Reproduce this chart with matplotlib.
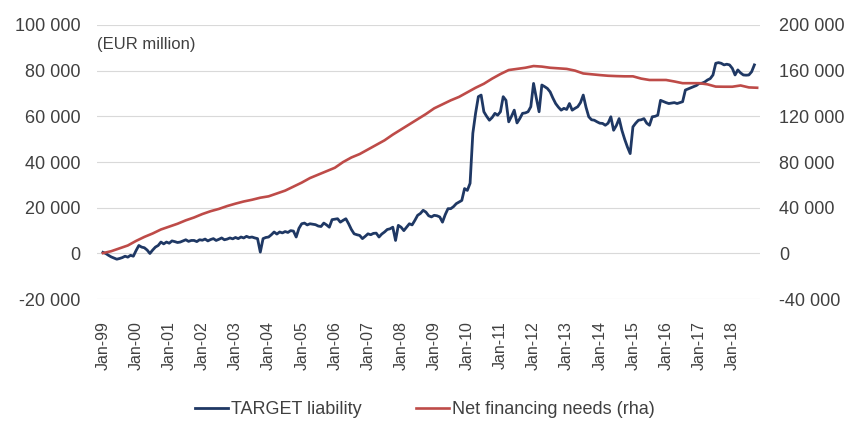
import matplotlib
matplotlib.use('Agg')
import matplotlib.pyplot as plt
from matplotlib.ticker import FuncFormatter

plt.rcParams['font.family'] = ['Liberation Sans Narrow', 'Liberation Sans', 'DejaVu Sans']

# TARGET liability, EUR thousand million, monthly Jan-99 .. Sep-18
target = [
    0.5, 0.0, -0.8, -1.5, -2.0, -2.5, -2.2, -1.8, -1.2, -1.6, -0.8, -1.2,
    1.3, 3.5, 2.8, 2.5, 1.5, 0.0, 1.5, 2.8, 3.5, 5.0, 4.2, 5.0,
    4.5, 5.5, 5.2, 4.8, 5.0, 5.5, 6.0, 5.3, 5.7, 5.7, 5.2, 6.0,
    5.8, 6.3, 5.5, 6.1, 6.5, 5.7, 6.2, 6.8, 6.0, 6.3, 6.8, 6.4,
    7.0, 6.5, 7.2, 6.8, 7.5, 7.0, 7.2, 6.8, 6.5, 0.6, 6.5, 7.0,
    7.2, 8.2, 9.4, 8.5, 9.4, 9.0, 9.6, 9.2, 10.0, 9.8, 7.2, 11.0,
    13.0, 13.3, 12.5, 13.0, 12.8, 12.6, 12.0, 11.8, 13.3, 12.5, 11.5, 14.8,
    15.0, 15.2, 13.7, 14.5, 15.2, 13.0, 10.5, 8.6, 8.2, 7.9, 6.5, 7.5,
    8.6, 8.2, 8.8, 8.9, 7.2, 8.5, 9.4, 10.5, 10.8, 11.5, 5.7, 12.3,
    11.5, 10.0, 11.5, 13.0, 12.5, 14.5, 16.7, 17.5, 18.9, 18.1, 16.5, 16.0,
    16.7, 16.5, 16.0, 13.7, 17.0, 19.6, 19.6, 20.5, 21.8, 22.5, 23.2, 28.4,
    27.6, 30.7, 52.6, 61.4, 68.6, 69.3, 62.0, 60.0, 58.3, 59.5, 61.3, 60.5,
    62.0, 68.6, 67.0, 57.6, 60.0, 62.7, 57.1, 59.0, 61.3, 61.5, 62.0, 64.2,
    74.4, 68.0, 62.0, 73.7, 73.0, 72.2, 70.7, 68.0, 65.6, 64.0, 62.7, 63.5,
    63.0, 65.6, 62.7, 63.5, 64.2, 66.0, 69.3, 64.0, 59.8, 58.5, 58.3, 57.6,
    57.0, 56.9, 56.1, 57.0, 59.8, 53.9, 56.0, 59.0, 53.9, 50.0, 46.6, 43.7,
    55.4, 57.0, 58.3, 58.5, 59.0, 57.0, 56.1, 59.8, 60.0, 60.5, 67.0, 66.5,
    66.0, 65.6, 65.8, 66.0, 65.6, 66.0, 66.4, 71.5, 72.0, 72.5, 73.0, 73.5,
    74.4, 74.5, 75.0, 75.9, 76.5, 78.1, 83.2, 83.5, 83.2, 82.5, 82.8, 82.5,
    81.0, 78.1, 80.3, 79.0, 78.1, 78.0, 78.1, 79.5, 82.5,
]
target_months = list(range(len(target)))

# Net financing needs (rha), EUR thousand million, quarterly readings
needs_months = list(range(0, 238, 3))
needs = [
    0.3, 2.0, 4.5, 7.0, 11.0, 14.5, 17.5, 21.0, 23.5, 26.0, 29.0, 31.5,
    34.5, 37.0, 39.0, 41.5, 43.6, 45.5, 47.0, 48.8, 50.0, 52.5, 55.0, 58.5,
    62.0, 66.0, 69.0, 72.0, 75.0, 80.0, 84.0, 87.0, 91.0, 95.0, 99.0, 104.0,
    108.5, 113.0, 117.5, 122.0, 127.0, 130.5, 134.0, 137.0, 141.0, 145.0, 148.5, 153.0,
    157.0, 160.5, 161.5, 162.5, 164.0, 163.5, 162.5, 162.0, 161.5, 160.0, 157.5, 156.8,
    156.1, 155.5, 155.2, 155.0, 155.0, 153.0, 151.8, 151.8, 151.8, 150.5, 149.0, 149.0,
    149.0, 148.0, 146.0, 145.9, 145.9, 147.0, 145.3, 145.0,
]

years = list(range(1999, 2019))
tick_labels = ['Jan-%02d' % (y % 100) for y in years]

fig = plt.figure(figsize=(8.5, 4.22), dpi=100)
ax = fig.add_axes([0.114, 0.291, 0.780, 0.650])
ax2 = ax.twinx()

ax.plot(target_months, [v * 1000 for v in target], color='#1f3864', lw=2.0,
        label='TARGET liability', zorder=3)
ax2.plot(needs_months, [v * 1000 for v in needs], color='#be4b48', lw=1.9,
         label='Net financing needs (rha)', zorder=2)

ax.set_ylim(-20000, 100000)
ax2.set_ylim(-40000, 200000)
ax.set_yticks(range(-20000, 100001, 20000))
ax2.set_yticks(range(-40000, 200001, 40000))
fmt = FuncFormatter(lambda v, p: '{:,.0f}'.format(v).replace(',', ' ').replace('-', '-'))
ax.yaxis.set_major_formatter(fmt)
ax2.yaxis.set_major_formatter(fmt)

ax.set_xlim(-2.2, 238)
ax.set_xticks([12 * i for i in range(len(years))])
ax.set_xticklabels(tick_labels, rotation=90, fontsize=11.5,
                   family=['Liberation Sans', 'DejaVu Sans'])

ax.grid(axis='y', color='#d9d9d9', lw=0.8)
ax.set_axisbelow(True)
for a in (ax, ax2):
    for s in a.spines.values():
        s.set_visible(False)
    a.tick_params(length=0, labelsize=13, colors='#404040')
ax.tick_params(axis='y', pad=12)
ax2.tick_params(axis='y', pad=14)
ax.tick_params(axis='x', pad=16, labelsize=11.5)

ax.text(0.0, 0.955, '(EUR million)', transform=ax.transAxes, fontsize=12,
        color='#404040', va='top', ha='left')

h1, l1 = ax.get_legend_handles_labels()
h2, l2 = ax2.get_legend_handles_labels()
fig.legend(h1 + h2, l1 + l2, loc='lower center', bbox_to_anchor=(0.5, -0.03),
           ncol=2, frameon=False, fontsize=13, handlelength=1.8,
           handletextpad=0.2, columnspacing=3.0, labelcolor='#404040')

fig.savefig('out.png', dpi=100)
